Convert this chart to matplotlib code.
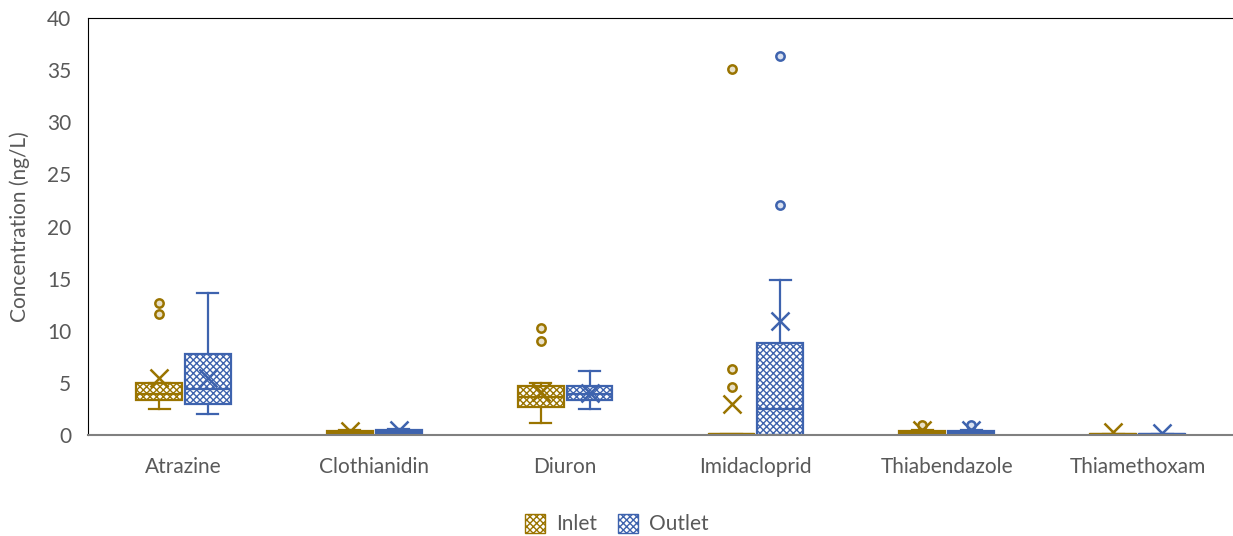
import numpy as np
import matplotlib.pyplot as plt
from matplotlib.patches import Patch

plt.rcParams['font.family'] = ['Lato', 'DejaVu Sans']
plt.rcParams['hatch.linewidth'] = 1.0

compounds = ["Atrazine", "Clothianidin", "Diuron", "Imidacloprid",
             "Thiabendazole", "Thiamethoxam"]

# box statistics per compound (ng/L)
inlet_whislo = [2.5, 0.05, 1.15, 0.0, 0.05, 0.0]
inlet_q1 = [3.4, 0.1, 2.7, 0.0, 0.1, 0.0]
inlet_med = [3.9, 0.2, 3.6, 0.05, 0.2, 0.05]
inlet_q3 = [5.0, 0.4, 4.7, 0.1, 0.4, 0.1]
inlet_whishi = [5.0, 0.5, 5.0, 0.1, 0.5, 0.1]
inlet_mean = [5.5, 0.4, 4.1, 3.0, 0.5, 0.3]
inlet_fliers = [[11.6, 12.7], [], [9.0, 10.3], [4.6, 6.3, 35.1], [1.0], []]

outlet_whislo = [2.0, 0.05, 2.5, 0.0, 0.05, 0.0]
outlet_q1 = [3.0, 0.1, 3.4, 0.0, 0.1, 0.0]
outlet_med = [4.4, 0.3, 3.9, 2.5, 0.2, 0.05]
outlet_q3 = [7.8, 0.5, 4.7, 8.8, 0.4, 0.1]
outlet_whishi = [13.6, 0.6, 6.1, 14.9, 0.5, 0.1]
outlet_mean = [5.5, 0.5, 4.0, 10.9, 0.5, 0.2]
outlet_fliers = [[], [], [], [22.1, 36.4], [1.0], []]

inlet_color = "#9A7400"
outlet_color = "#3E63AE"


def make_stats(whislo, q1, med, q3, whishi, mean, fliers):
    stats = []
    for i in range(len(q1)):
        stats.append(dict(whislo=whislo[i], q1=q1[i], med=med[i], q3=q3[i],
                          whishi=whishi[i], mean=mean[i],
                          fliers=np.array(fliers[i])))
    return stats


fig = plt.figure(figsize=(12.33, 5.36), dpi=100)
ax = fig.add_axes([0.0714, 0.1884, 0.9286, 0.778])

x = np.arange(len(compounds))
offset = 0.128
width = 0.24

series = [
    (make_stats(inlet_whislo, inlet_q1, inlet_med, inlet_q3, inlet_whishi,
                inlet_mean, inlet_fliers), x - offset, inlet_color, "#e8e0c8"),
    (make_stats(outlet_whislo, outlet_q1, outlet_med, outlet_q3, outlet_whishi,
                outlet_mean, outlet_fliers), x + offset, outlet_color, "#d8e0f0"),
]

for stats, pos, col, light in series:
    parts = ax.bxp(stats, positions=pos, widths=width, capwidths=0.11,
                   patch_artist=True, showmeans=True,
                   boxprops=dict(facecolor="white", edgecolor=col,
                                 hatch="xxxxx", linewidth=1.6),
                   medianprops=dict(color=col, linewidth=1.6),
                   whiskerprops=dict(color=col, linewidth=1.6),
                   capprops=dict(color=col, linewidth=1.6),
                   meanprops=dict(marker="x", markeredgecolor=col,
                                  markersize=13, markeredgewidth=1.8),
                   flierprops=dict(marker="o", markerfacecolor=light,
                                   markeredgecolor=col, markersize=6,
                                   markeredgewidth=1.8))
    for m in parts["means"] + parts["medians"]:
        m.set_zorder(4)

ax.set_xlim(-0.5, 5.5)
ax.set_ylim(0, 40)
ax.set_yticks(np.arange(0, 41, 5))
ax.set_xticks(x)
ax.set_xticklabels(compounds)
ax.tick_params(axis="both", length=0, labelsize=15, colors="#595959")
ax.tick_params(axis="x", pad=16)
ax.tick_params(axis="y", pad=12)
ax.set_ylabel("Concentration (ng/L)", fontsize=15, color="#595959", labelpad=12)

ax.spines["right"].set_visible(False)
ax.spines["left"].set_color("black")
ax.spines["top"].set_color("black")
ax.spines["bottom"].set_color("#808080")
ax.spines["bottom"].set_linewidth(1.5)
ax.spines["bottom"].set_zorder(5)

handles = [Patch(facecolor="white", edgecolor=inlet_color, hatch="xxxxx",
                 label="Inlet"),
           Patch(facecolor="white", edgecolor=outlet_color, hatch="xxxxx",
                 label="Outlet")]
leg = fig.legend(handles=handles, loc="center", bbox_to_anchor=(0.5, 0.022),
                 ncol=2, frameon=False, fontsize=15, handlelength=1.0,
                 handleheight=1.0, columnspacing=1.0, handletextpad=0.5)
for t in leg.get_texts():
    t.set_color("#595959")

fig.savefig("out.png", dpi=100)
